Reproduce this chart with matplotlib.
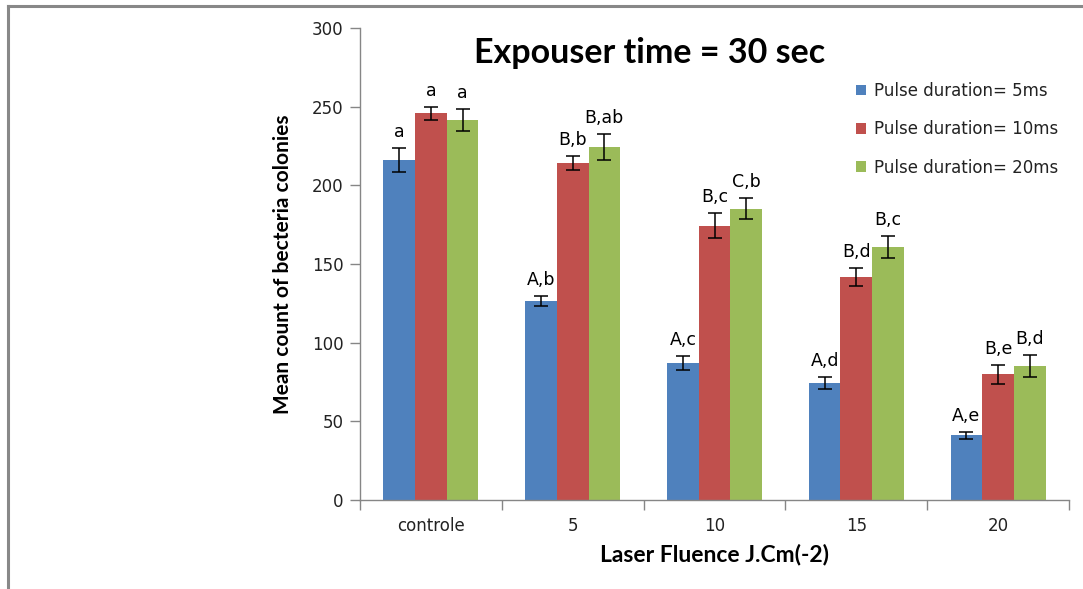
import matplotlib
matplotlib.use("Agg")
import matplotlib.pyplot as plt
import numpy as np
from matplotlib.lines import Line2D

categories = ["controle", "5", "10", "15", "20"]
series_names = ["Pulse duration= 5ms", "Pulse duration= 10ms", "Pulse duration= 20ms"]
vals_5ms = [216, 126.5, 87.3, 74.4, 41]
vals_10ms = [245.8, 214.4, 174.4, 141.7, 80]
vals_20ms = [241.5, 224.6, 185.2, 160.6, 85]
err_5ms = [7.5, 3.0, 4.5, 3.6, 2.1]
err_10ms = [4.2, 4.5, 8.0, 5.9, 6.0]
err_20ms = [7.2, 8.3, 6.9, 7.1, 7.0]
labels_5ms = ["a", "A,b", "A,c", "A,d", "A,e"]
labels_10ms = ["a", "B,b", "B,c", "B,d", "B,e"]
labels_20ms = ["a", "B,ab", "C,b", "B,c", "B,d"]
yticks = [0, 50, 100, 150, 200, 250, 300]
title = "Expouser time = 30 sec"
xlabel = "Laser Fluence J.Cm(-2)"
ylabel = "Mean count of becteria colonies"

colors = ["#4F81BD", "#C0504D", "#9BBB59"]

fig = plt.figure(figsize=(10.83, 5.89), dpi=100)
ax = fig.add_axes([360/1083, 89/589, 709/1083, 472/589])

x = np.arange(len(categories))
w = 0.223
all_vals = [vals_5ms, vals_10ms, vals_20ms]
all_errs = [err_5ms, err_10ms, err_20ms]
all_labels = [labels_5ms, labels_10ms, labels_20ms]
for i, (v, e, lab) in enumerate(zip(all_vals, all_errs, all_labels)):
    xs = x + (i - 1) * w
    ax.bar(xs, v, width=w, color=colors[i], edgecolor="none", label=series_names[i], zorder=2)
    ax.errorbar(xs, v, yerr=e, fmt="none", ecolor="black", elinewidth=1.1,
                capsize=5, capthick=1.1, zorder=3)
    for xi, vi, ei, li in zip(xs, v, e, lab):
        ax.annotate(li, xy=(xi, vi + ei), xytext=(0, 5), textcoords="offset points",
                    ha="center", va="bottom", fontsize=12.5, family="DejaVu Sans", color="black")

ax.set_xlim(-0.5, len(categories) - 0.5)
ax.set_ylim(0, 300)
ax.set_yticks(yticks)
ax.set_yticklabels([str(t) for t in yticks], fontsize=12, color="#222222")
ax.set_xticks(x)
ax.set_xticklabels(categories, fontsize=12, color="#222222")
ax.set_xticks(np.arange(-0.5, len(categories)), minor=True)
ax.tick_params(axis="x", which="major", length=0, pad=12)
ax.tick_params(axis="x", which="minor", length=7, color="#868686", width=1, direction="out")
ax.tick_params(axis="y", which="major", length=7, color="#868686", width=1, direction="out", pad=5)

for s in ["top", "right"]:
    ax.spines[s].set_visible(False)
for s in ["left", "bottom"]:
    ax.spines[s].set_color("#868686")
    ax.spines[s].set_linewidth(1)

ax.set_xlabel(xlabel, fontsize=16.5, fontweight="bold", family="Lato")
ax.xaxis.set_label_coords(0.5, -0.093)
ax.set_ylabel(ylabel, fontsize=15, fontweight="bold", family="Lato")
ax.yaxis.set_label_coords(-0.095, 0.5)

fig.text(650/1083, 1 - 53/589, title, ha="center", va="center", fontsize=24.5,
         fontweight="bold", family="Lato")

leg = fig.legend(loc="upper left", bbox_to_anchor=(856/1083, 1 - 82/589), frameon=False,
                 fontsize=12, handlelength=0.6, handleheight=0.6, handletextpad=0.45,
                 labelspacing=1.22, borderpad=0, borderaxespad=0)
for t in leg.get_texts():
    t.set_color("#222222")

# figure border (top and left)
fig.add_artist(Line2D([8/1083, 8/1083], [0, 1 - 6/589], color="#888888", lw=2.2))
fig.add_artist(Line2D([8/1083, 1], [1 - 6/589, 1 - 6/589], color="#888888", lw=2.2))

fig.savefig("out.png", dpi=100)
